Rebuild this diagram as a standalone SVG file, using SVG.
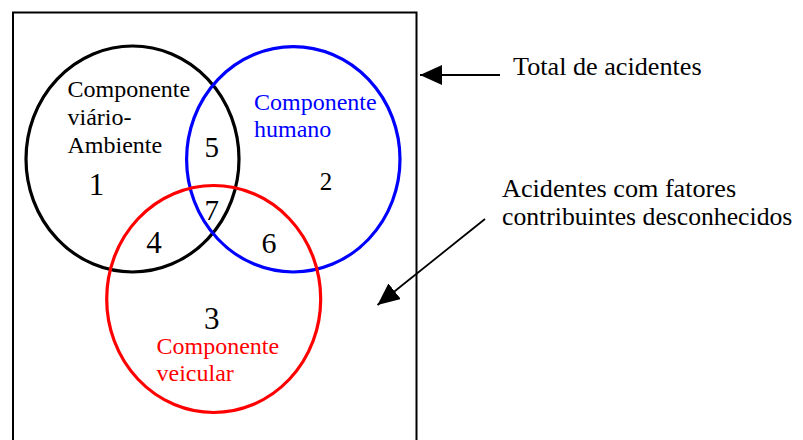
<svg xmlns="http://www.w3.org/2000/svg" width="803" height="440" viewBox="0 0 803 440">
<style>
.lbl{font-size:24px;}
.side{fill:#000;}
.num{fill:#000;text-anchor:middle;}
.set{fill:none;stroke-width:3.2;}
.conn{stroke:#000;stroke-width:1.8;fill:none;}
</style>
<defs>
<marker id="ah" markerUnits="userSpaceOnUse" markerWidth="22" markerHeight="20" refX="22" refY="10" orient="auto" viewBox="0 0 22 20">
<path d="M0,0 L22,10 L0,20 z" fill="#000"/>
</marker>
</defs>
<rect x="0" y="0" width="803" height="440" fill="#fff"/>
<g font-family="Liberation Serif, DejaVu Serif, serif">
<g id="total">
<rect x="13" y="12.5" width="403.5" height="440" fill="none" stroke="#000" stroke-width="2"/>
</g>
<g id="viario">
<ellipse class="set" cx="132.5" cy="159" rx="106.5" ry="113" stroke="#000"/>
<text class="lbl" x="67.5" y="96.5" fill="#000">Componente</text>
<text class="lbl" x="67.5" y="125" fill="#000">viário-</text>
<text class="lbl" x="67.5" y="152.5" fill="#000">Ambiente</text>
</g>
<g id="humano">
<ellipse class="set" cx="293.3" cy="159.3" rx="106.7" ry="112.7" stroke="#0000ff"/>
<text class="lbl" x="254" y="109.5" fill="#0000ff">Componente</text>
<text class="lbl" x="254" y="137" fill="#0000ff">humano</text>
</g>
<g id="veicular">
<ellipse class="set" cx="213.7" cy="299" rx="107" ry="113.5" stroke="#ff0000"/>
<text class="lbl" x="156.5" y="353.5" fill="#ff0000">Componente</text>
<text class="lbl" x="156.5" y="381" fill="#ff0000">veicular</text>
</g>
<g id="numbers">
<text class="num" x="96.5" y="195" font-size="31">1</text>
<text class="num" x="326" y="190" font-size="25">2</text>
<text class="num" x="211.7" y="328.5" font-size="31">3</text>
<text class="num" x="154" y="253" font-size="31">4</text>
<text class="num" x="211.7" y="156.7" font-size="29">5</text>
<text class="num" x="269" y="253" font-size="30">6</text>
<text class="num" x="211.7" y="220" font-size="29">7</text>
</g>
<g id="label-total">
<text class="side" x="513" y="75" font-size="26.2">Total de acidentes</text>
</g>
<g id="label-desconhecidos">
<text class="side" x="502" y="196.5" font-size="26.2">Acidentes com fatores</text>
<text class="side" x="502" y="225" font-size="25.7">contribuintes desconhecidos</text>
</g>
</g>
<g id="connectors">
<line class="conn" x1="500" y1="75" x2="420" y2="75" marker-end="url(#ah)"/>
<line class="conn" x1="485" y1="219" x2="377.5" y2="305" marker-end="url(#ah)"/>
</g>
</svg>
